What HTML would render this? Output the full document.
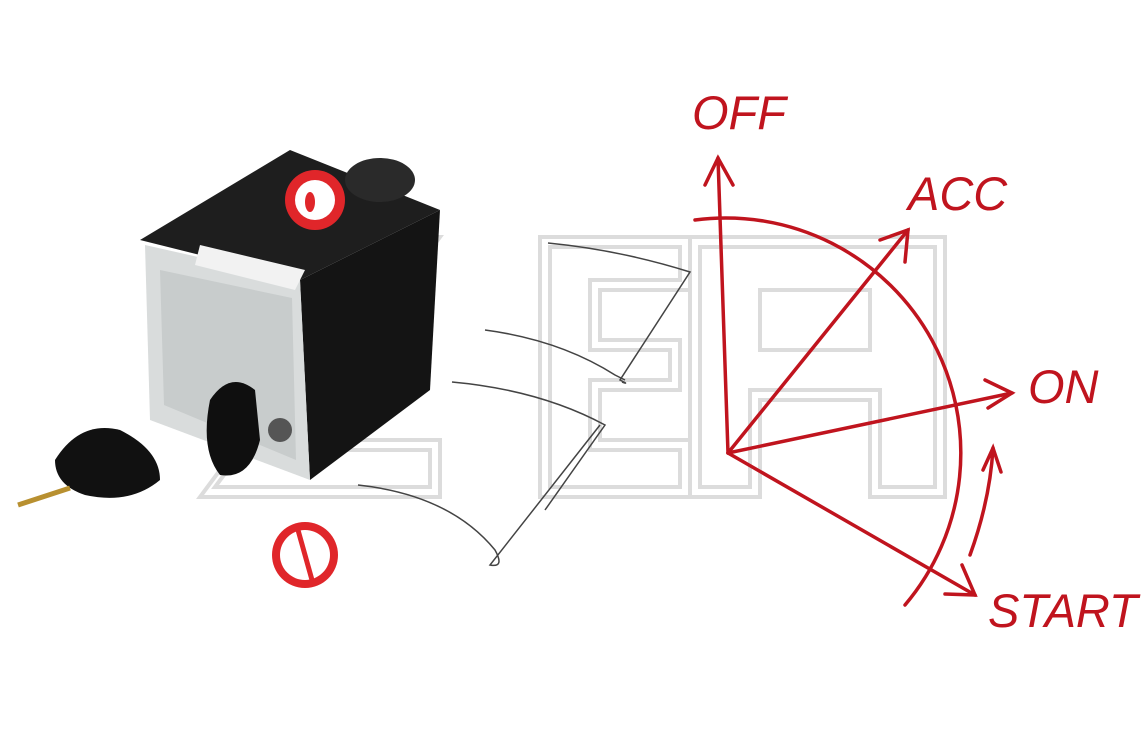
<!DOCTYPE html>
<html><head><meta charset="utf-8"><style>
html,body{margin:0;padding:0;background:#fff;}
svg{display:block;}
</style></head><body>
<svg width="1146" height="736" viewBox="0 0 1146 736" xmlns="http://www.w3.org/2000/svg">
<rect width="1146" height="736" fill="#fff"/>
<g fill="none" stroke="#dcdcdc" stroke-width="4">
  <path d="M240 237 H440 L290 440 H440 V497 H200 L350 295 H240 Z"/>
  <path d="M252 247 H420 L270 450 H430 V487 H215 L365 285 H252 Z"/>
  <path d="M540 237 H690 V290 H600 V340 H680 V390 H600 V440 H690 V497 H540 Z"/>
  <path d="M550 247 H680 V280 H590 V350 H670 V380 H590 V450 H680 V487 H550 Z"/>
  <path d="M690 237 H945 V497 H870 V400 H760 V497 H690 Z M760 290 V350 H870 V290 Z"/>
  <path d="M700 247 H935 V487 H880 V390 H750 V487 H700 Z"/>
</g>
<polygon points="140,240 290,150 440,210 300,280" fill="#1e1e1e"/>
<ellipse cx="380" cy="180" rx="35" ry="22" fill="#2a2a2a"/>
<polygon points="300,280 440,210 430,390 310,480" fill="#141414"/>
<polygon points="145,245 300,280 310,480 150,420" fill="#d9dcdc"/>
<polygon points="160,270 292,298 296,460 164,405" fill="#c8cccc"/>
<polygon points="200,245 305,270 295,290 195,265" fill="#f2f2f2"/>
<circle cx="315" cy="200" r="30" fill="#e0262a"/>
<circle cx="315" cy="200" r="20" fill="#fff"/>
<ellipse cx="310" cy="202" rx="5" ry="10" fill="#e0262a"/>
<path d="M210 400 Q230 370 255 390 L260 440 Q250 480 220 475 Q200 450 210 400Z" fill="#0f0f0f"/>
<circle cx="280" cy="430" r="12" fill="#555"/>
<path d="M55 460 Q80 420 120 430 Q160 450 160 480 Q130 505 85 495 Q55 485 55 460Z" fill="#111"/>
<line x1="18" y1="505" x2="70" y2="488" stroke="#b89030" stroke-width="5"/>
<circle cx="305" cy="555" r="33" fill="#e0262a"/>
<circle cx="305" cy="555" r="25" fill="#fff"/>
<line x1="298" y1="530" x2="312" y2="580" stroke="#e0262a" stroke-width="5"/>
<g fill="none" stroke="#444" stroke-width="1.5">
  <path d="M548 243 Q620 250 690 272 L620 380 Q630 385 622 382"/>
  <path d="M485 330 Q560 340 615 375 L625 380"/>
  <path d="M452 382 Q540 390 605 425 L545 510"/>
  <path d="M358 485 Q450 495 495 550 Q505 568 490 565 L600 425"/>
</g>
<g fill="none" stroke="#c0141e" stroke-width="3.5" stroke-linecap="round">
  <path d="M695 220 A235 235 0 0 1 905 605"/>
  <line x1="728" y1="453" x2="718" y2="158"/>
  <path d="M705 185 L718 158 L733 185"/>
  <line x1="728" y1="453" x2="908" y2="230"/>
  <path d="M880 240 L908 230 L905 262"/>
  <line x1="728" y1="453" x2="1012" y2="393"/>
  <path d="M985 380 L1012 393 L988 408"/>
  <line x1="728" y1="453" x2="975" y2="595"/>
  <path d="M962 565 L975 595 L945 594"/>
  <path d="M970 555 Q990 500 993 448"/>
  <path d="M983 470 L993 448 L1001 472"/>
</g>
<g fill="#c0141e" font-family="Liberation Sans, sans-serif" font-style="italic" font-size="47">
  <text x="692" y="129">OFF</text>
  <text x="908" y="210">ACC</text>
  <text x="1028" y="403">ON</text>
  <text x="988" y="627">START</text>
</g>
</svg>
</body></html>
